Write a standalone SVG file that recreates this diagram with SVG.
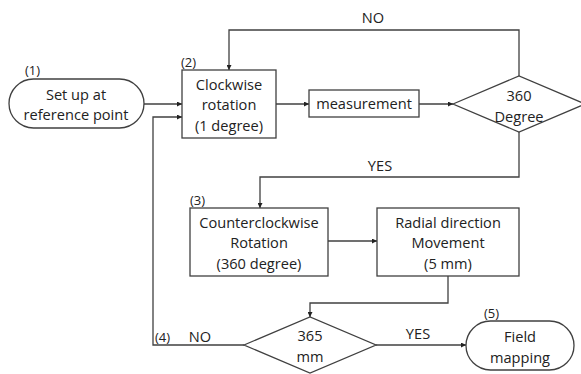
<svg xmlns="http://www.w3.org/2000/svg" width="581" height="374" viewBox="0 0 581 374">
<style>
.s{fill:#fff;stroke:#404040;stroke-width:1.3}
.c{fill:none;stroke:#404040;stroke-width:1.3}
text{font-family:"Open Sans","Liberation Sans",sans-serif;font-size:14.6px;fill:#222}
.m{text-anchor:middle}
.n{font-size:13px}
</style>
<defs>
<marker id="a" viewBox="0 0 8 8" refX="8" refY="4" markerWidth="5" markerHeight="5" orient="auto" markerUnits="userSpaceOnUse">
<path d="M0,0 L8,4 L0,8 Z" fill="#222"/>
</marker>
</defs>
<rect width="581" height="374" fill="#fff"/>
<g id="connectors">
<path class="c" d="M144,104 H182" marker-end="url(#a)"/>
<path class="c" d="M276,104 H309" marker-end="url(#a)"/>
<path class="c" d="M419,104 H453" marker-end="url(#a)"/>
<path class="c" d="M519,76 V30 H229 V70" marker-end="url(#a)"/>
<path class="c" d="M519,132 V177 H260 V208" marker-end="url(#a)"/>
<path class="c" d="M328,241 H377" marker-end="url(#a)"/>
<path class="c" d="M448,276 V303 H310 V317" marker-end="url(#a)"/>
<path class="c" d="M244,345 H153 V117 H182" marker-end="url(#a)"/>
<path class="c" d="M376,345 H466" marker-end="url(#a)"/>
<text x="373" y="23" class="m">NO</text>
<text x="380" y="171" class="m">YES</text>
<text x="155" y="342" class="n">(4)</text>
<text x="200" y="342" class="m">NO</text>
<text x="418" y="339" class="m">YES</text>
</g>
<g id="start">
<rect class="s" x="9" y="79" width="135" height="49" rx="24.5"/>
<text x="25" y="75" class="n">(1)</text>
<text x="76" y="100" class="m">Set up at</text>
<text x="76" y="120" class="m">reference point</text>
</g>
<g id="cw">
<rect class="s" x="182" y="70" width="94" height="68"/>
<text x="181" y="67" class="n">(2)</text>
<text x="229" y="90" class="m">Clockwise</text>
<text x="229" y="110" class="m">rotation</text>
<text x="229" y="131" class="m">(1 degree)</text>
</g>
<g id="measure">
<rect class="s" x="309" y="90" width="110" height="27"/>
<text x="364" y="109" class="m">measurement</text>
</g>
<g id="d360">
<path class="s" d="M453,104 L519,76 L585,104 L519,132 Z"/>
<text x="519" y="101" class="m">360</text>
<text x="519" y="122" class="m">Degree</text>
</g>
<g id="ccw">
<rect class="s" x="190" y="208" width="138" height="68"/>
<text x="190" y="205" class="n">(3)</text>
<text x="259" y="228" class="m">Counterclockwise</text>
<text x="259" y="248" class="m">Rotation</text>
<text x="259" y="269" class="m">(360 degree)</text>
</g>
<g id="radial">
<rect class="s" x="377" y="208" width="142" height="68"/>
<text x="448" y="228" class="m">Radial direction</text>
<text x="448" y="248" class="m">Movement</text>
<text x="448" y="269" class="m">(5 mm)</text>
</g>
<g id="d365">
<path class="s" d="M244,345 L310,317 L376,345 L310,373 Z"/>
<text x="310" y="341" class="m">365</text>
<text x="310" y="362" class="m">mm</text>
</g>
<g id="end">
<rect class="s" x="466" y="321" width="108" height="49" rx="24.5"/>
<text x="484" y="318" class="n">(5)</text>
<text x="520" y="342" class="m">Field</text>
<text x="520" y="363" class="m">mapping</text>
</g>
</svg>
